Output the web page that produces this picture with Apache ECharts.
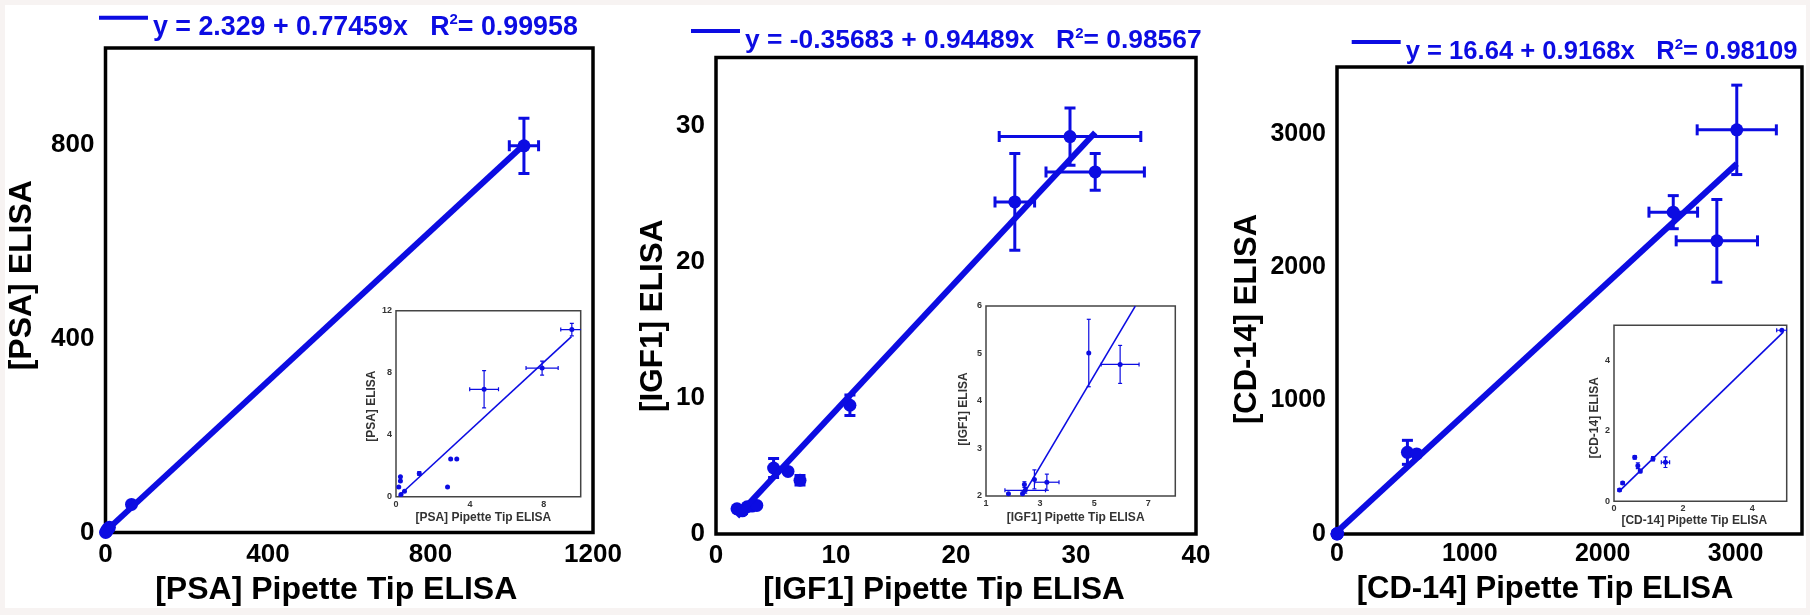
<!DOCTYPE html>
<html><head><meta charset="utf-8">
<script src="https://cdn.jsdelivr.net/npm/echarts@6/dist/echarts.min.js"></script>
<style>
html,body{margin:0;padding:0;background:#f7f3f2;}
#bg{position:absolute;left:5px;top:5px;width:1801px;height:603px;background:#fff;}
#chart{position:absolute;left:0;top:0;width:1810px;height:615px;}
</style></head><body>
<div id="bg"></div><div id="chart"></div>
<script>
// ---------------- DATA ----------------
// Panel 1: PSA
const psaX    = [1030, 64, 9.5, 7.9, 4.8, 3.1, 1.3, 0.3];
const psaY    = [798, 58, 10.8, 8.3, 6.9, 2.4, 1.5, 0.2];
const psaXErr = [36, 0, 0, 0, 0, 0, 0, 0];
const psaYErr = [57, 0, 0, 0, 0, 0, 0, 0];
const psaFitCoef = [2.329, 0.77459];      // intercept, slope
const psaFitRange = [0, 1030];
const psaR2 = '0.99958';
const psaInsetX    = [9.52, 7.91, 4.77, 2.96, 3.29, 2.79, 1.26, 0.24, 0.24, 0.15, 0.27, 0.46];
const psaInsetY    = [10.78, 8.30, 6.93, 2.43, 2.43, 0.63, 1.50, 1.28, 1.02, 0.63, 0.15, 0.35];
const psaInsetXErr = [0.60, 0.87, 0.78, 0, 0, 0, 0, 0, 0, 0, 0, 0];
const psaInsetYErr = [0.40, 0.45, 1.20, 0, 0, 0, 0.12, 0, 0, 0, 0, 0];
const psaInsetFitCoef = [-0.12, 1.10];
const psaInsetFitRange = [0.15, 9.5];
const psaXAxis = [0, 1200, 400], psaYAxis = [0, 1000, 400];
const psaInsetXAxis = [0, 10, 4], psaInsetYAxis = [0, 12, 4];

// Panel 2: IGF1
const igfX    = [29.5, 31.6, 24.9, 11.16, 4.8, 6.0, 7.0, 1.75, 2.2, 2.6, 3.0, 3.4];
const igfY    = [29.2, 26.6, 24.4, 9.46, 4.85, 4.6, 3.95, 1.85, 1.7, 2.0, 2.05, 2.1];
const igfXErr = [5.9, 4.1, 1.65, 0, 0, 0, 0, 0, 0, 0, 0, 0];
const igfYErr = [2.1, 1.35, 3.55, 0.75, 0.7, 0, 0.35, 0, 0.2, 0, 0, 0];
const igfFitCoef = [-0.35683, 0.94489];
const igfFitRange = [1.75, 31.6];
const igfR2 = '0.98567';
const igfInsetX    = [4.80, 5.96, 3.25, 2.79, 2.42, 2.45, 1.83, 2.35];
const igfInsetY    = [5.01, 4.77, 2.29, 2.35, 2.24, 2.12, 2.05, 2.05];
const igfInsetXErr = [0, 0.70, 0.45, 0, 0, 0.75, 0, 0];
const igfInsetYErr = [0.71, 0.40, 0.17, 0.20, 0.06, 0.06, 0, 0.06];
const igfInsetFitCoef = [-0.26, 0.96];
const igfInsetFitRange = [2.5, 6.52];
const igfXAxis = [0, 40, 10], igfYAxis = [0, 35, 10];
const igfInsetXAxis = [1, 8, 2], igfInsetYAxis = [2, 6, 1];

// Panel 3: CD-14
const cdX    = [3009, 2531, 2859, 530, 600, 4.9, 1.5, 0.7, 0.2];
const cdY    = [3029, 2412, 2197, 612, 600, 4.9, 1.1, 1.0, 0.3];
const cdXErr = [298, 183, 306, 0, 0, 0, 0, 0, 0];
const cdYErr = [335, 124, 310, 90, 0, 0, 0, 0, 0];
const cdFitCoef = [16.64, 0.9168];
const cdFitRange = [0, 3009];
const cdR2 = '0.98109';
const cdInsetX    = [4.86, 1.49, 1.13, 0.76, 0.69, 0.60, 0.25, 0.16];
const cdInsetY    = [4.86, 1.11, 1.21, 0.86, 1.01, 1.25, 0.52, 0.32];
const cdInsetXErr = [0.15, 0.12, 0, 0.04, 0, 0, 0, 0];
const cdInsetYErr = [0, 0.15, 0.06, 0.05, 0.08, 0.05, 0.04, 0.04];
const cdInsetFitCoef = [0.14, 0.952];
const cdInsetFitRange = [0.14, 4.9];
const cdXAxis = [0, 3500, 1000], cdYAxis = [0, 3500, 1000];
const cdInsetXAxis = [0, 5, 2], cdInsetYAxis = [0, 5, 2];

const names = ['[PSA]', '[IGF1]', '[CD-14]'];

// ---------------- HELPERS ----------------
const BLUE = '#0c0ce2';
const FONT = '"Liberation Sans", Arial, Helvetica, sans-serif';

function fmtEq(c) {
  const a = c[0], b = c[1];
  return 'y = ' + a + ' + ' + b + 'x';
}
function fitLine(coef, range) {
  return range.map(x => [x, coef[0] + coef[1] * x]);
}
function pts(xs, ys) { return xs.map((x, i) => [x, ys[i]]); }
function errs(xs, ys, ex, ey) { return xs.map((x, i) => [x, ys[i], ex[i], ey[i]]); }

function errRender(cap, lw) {
  return function (params, api) {
    const x = api.value(0), y = api.value(1), ex = api.value(2), ey = api.value(3);
    const style = { stroke: BLUE, lineWidth: lw, fill: null };
    const ch = [];
    const seg = (x1, y1, x2, y2) => ch.push({ type: 'line', shape: { x1, y1, x2, y2 }, style });
    if (ex > 0) {
      const a = api.coord([x - ex, y]), b = api.coord([x + ex, y]);
      seg(a[0], a[1], b[0], b[1]);
      seg(a[0], a[1] - cap, a[0], a[1] + cap);
      seg(b[0], b[1] - cap, b[0], b[1] + cap);
    }
    if (ey > 0) {
      const a = api.coord([x, y - ey]), b = api.coord([x, y + ey]);
      seg(a[0], a[1], b[0], b[1]);
      seg(a[0] - cap, a[1], a[0] + cap, a[1]);
      seg(b[0] - cap, b[1], b[0] + cap, b[1]);
    }
    return { type: 'group', children: ch };
  };
}

function axis(kind, r, gi, name, o) {
  return {
    type: 'value', gridIndex: gi, min: r[0], max: r[1], interval: r[2],
    name: name, nameLocation: 'middle', nameGap: o.gap,
    nameTextStyle: { fontFamily: FONT, fontWeight: 'bold', fontSize: o.nfs, color: o.ncol || '#000', padding: o.pad || 0 },
    axisLine: { show: false }, axisTick: { show: false }, splitLine: { show: false },
    axisLabel: { fontFamily: FONT, fontWeight: 'bold', fontSize: o.lfs, color: o.lcol || '#000', margin: o.margin,
                 showMaxLabel: o.showMax, showMinLabel: true, formatter: v => String(v) }
  };
}

const series = [];
function addPanel(gi, p) {
  series.push({ type: 'line', name: p.lineName, xAxisIndex: gi, yAxisIndex: gi, data: p.fit, symbol: 'none',
    lineStyle: { color: BLUE, width: p.lw }, itemStyle: { color: BLUE }, clip: true, silent: true });
  series.push({ type: 'custom', xAxisIndex: gi, yAxisIndex: gi, data: p.errs, clip: true,
    dimensions: ['x', 'y', 'ex', 'ey'], encode: { x: 0, y: 1 }, renderItem: errRender(p.cap, p.elw), silent: true });
  series.push({ type: 'scatter', xAxisIndex: gi, yAxisIndex: gi, data: p.pts, symbolSize: p.ss,
    itemStyle: { color: BLUE, opacity: 1 }, clip: true, silent: true });
}

addPanel(0, { lineName: 'PSA fit', fit: fitLine(psaFitCoef, psaFitRange), lw: 6,
  errs: errs(psaX, psaY, psaXErr, psaYErr), cap: 5.5, elw: 3, pts: pts(psaX, psaY), ss: 13 });
addPanel(1, { lineName: 'PSA inset fit', fit: fitLine(psaInsetFitCoef, psaInsetFitRange), lw: 1.6,
  errs: errs(psaInsetX, psaInsetY, psaInsetXErr, psaInsetYErr), cap: 2, elw: 1.2, pts: pts(psaInsetX, psaInsetY), ss: 5 });
addPanel(2, { lineName: 'IGF1 fit', fit: fitLine(igfFitCoef, igfFitRange), lw: 6,
  errs: errs(igfX, igfY, igfXErr, igfYErr), cap: 5.5, elw: 3, pts: pts(igfX, igfY), ss: 13 });
addPanel(3, { lineName: 'IGF1 inset fit', fit: fitLine(igfInsetFitCoef, igfInsetFitRange), lw: 1.6,
  errs: errs(igfInsetX, igfInsetY, igfInsetXErr, igfInsetYErr), cap: 2, elw: 1.2, pts: pts(igfInsetX, igfInsetY), ss: 5 });
addPanel(4, { lineName: 'CD-14 fit', fit: fitLine(cdFitCoef, cdFitRange), lw: 6,
  errs: errs(cdX, cdY, cdXErr, cdYErr), cap: 5.5, elw: 3, pts: pts(cdX, cdY), ss: 13 });
addPanel(5, { lineName: 'CD-14 inset fit', fit: fitLine(cdInsetFitCoef, cdInsetFitRange), lw: 1.6,
  errs: errs(cdInsetX, cdInsetY, cdInsetXErr, cdInsetYErr), cap: 2, elw: 1.2, pts: pts(cdInsetX, cdInsetY), ss: 5 });

const mainGrid = { show: true, borderColor: '#000', borderWidth: 3.5, backgroundColor: 'transparent' };
const insetGrid = { show: true, borderColor: '#444', borderWidth: 1.5, backgroundColor: '#fff' };
const grids = [
  Object.assign({ left: 105.5, top: 48, width: 487.5, height: 484.5 }, mainGrid),
  Object.assign({ left: 396, top: 310.7, width: 184.7, height: 186 }, insetGrid),
  Object.assign({ left: 716, top: 57.6, width: 480, height: 476.4 }, mainGrid),
  Object.assign({ left: 986, top: 306, width: 189.3, height: 190 }, insetGrid),
  Object.assign({ left: 1337, top: 67, width: 465, height: 467 }, mainGrid),
  Object.assign({ left: 1614, top: 325.3, width: 172.7, height: 176 }, insetGrid)
];

const xAxes = [
  axis('x', psaXAxis, 0, names[0] + ' Pipette Tip ELISA', { gap: 41.5, nfs: 32, lfs: 26, margin: 9, showMax: true, pad: [0, 26, 0, 0] }),
  axis('x', psaInsetXAxis, 1, names[0] + ' Pipette Tip ELISA', { gap: 15, nfs: 12, ncol: '#333', lfs: 9, lcol: '#333', margin: 3, showMax: false, pad: [0, 10, 0, 0] }),
  axis('x', igfXAxis, 2, names[1] + ' Pipette Tip ELISA', { gap: 40, nfs: 31.5, lfs: 26, margin: 9, showMax: true, pad: [0, 24, 0, 0] }),
  axis('x', igfInsetXAxis, 3, names[1] + ' Pipette Tip ELISA', { gap: 16, nfs: 12, ncol: '#333', lfs: 9, lcol: '#333', margin: 3, showMax: false, pad: [0, 10, 0, 0] }),
  axis('x', cdXAxis, 4, names[2] + ' Pipette Tip ELISA', { gap: 40, nfs: 31, lfs: 25, margin: 8, showMax: false, pad: [0, 49, 0, 0] }),
  axis('x', cdInsetXAxis, 5, names[2] + ' Pipette Tip ELISA', { gap: 11, nfs: 12, ncol: '#333', lfs: 9, lcol: '#333', margin: 3, showMax: false, pad: [0, 12, 0, 0] })
];
const yAxes = [
  axis('y', psaYAxis, 0, names[0] + ' ELISA', { gap: 67.5, nfs: 32, lfs: 26, margin: 11, showMax: false, pad: [0, 0, 0, 30] }),
  axis('y', psaInsetYAxis, 1, names[0] + ' ELISA', { gap: 16, nfs: 12, ncol: '#333', lfs: 9, lcol: '#333', margin: 4, showMax: true, pad: [0, 5, 0, 0] }),
  axis('y', igfYAxis, 2, names[1] + ' ELISA', { gap: 47, nfs: 31.5, lfs: 26, margin: 11, showMax: false, pad: [0, 40, 0, 0] }),
  axis('y', igfInsetYAxis, 3, names[1] + ' ELISA', { gap: 16.7, nfs: 12, ncol: '#333', lfs: 9, lcol: '#333', margin: 4, showMax: true, pad: [0, 16, 0, 0] }),
  axis('y', cdYAxis, 4, names[2] + ' ELISA', { gap: 74, nfs: 31, lfs: 25, margin: 11, showMax: false, pad: [0, 37, 0, 0] }),
  axis('y', cdInsetYAxis, 5, names[2] + ' ELISA', { gap: 11.3, nfs: 12, ncol: '#333', lfs: 9, lcol: '#333', margin: 4, showMax: false, pad: [0, 9, 0, 0] })
];

const eqText = { 'PSA fit': [fmtEq(psaFitCoef), psaR2], 'IGF1 fit': [fmtEq(igfFitCoef), igfR2], 'CD-14 fit': [fmtEq(cdFitCoef), cdR2] };
function legendFor(name, left, top, fs) {
  return {
    data: [name], left: left, top: top, orient: 'horizontal', selectedMode: false,
    itemWidth: 49, itemHeight: 24, itemGap: 0, padding: 0,
    icon: 'path://M0,0H49V4H0ZM0,24H0.01V24.01H0Z',
    itemStyle: { color: BLUE, borderWidth: 0 },
    formatter: n => '{t|' + eqText[n][0] + '   R}{s|2}{t|= ' + eqText[n][1] + '}',
    textStyle: { rich: {
      t: { fontFamily: FONT, fontWeight: 'bold', fontSize: fs, color: BLUE, lineHeight: 30 },
      s: { fontFamily: FONT, fontWeight: 'bold', fontSize: 15, color: BLUE, verticalAlign: 'top', lineHeight: 30 }
    } }
  };
}

const chart = echarts.init(document.getElementById('chart'), null, { renderer: 'canvas' });
chart.setOption({
  animation: false,
  backgroundColor: 'transparent',
  grid: grids,
  xAxis: xAxes,
  yAxis: yAxes,
  legend: [legendFor('PSA fit', 99, 12.7, 26.8), legendFor('IGF1 fit', 691, 26, 26.4), legendFor('CD-14 fit', 1351.7, 37, 25.6)],
  series: series
});
</script>
</body></html>
